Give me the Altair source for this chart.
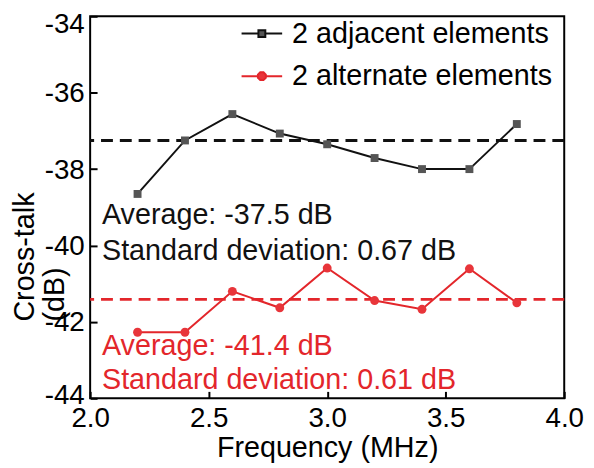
import altair as alt
import pandas as pd

# ---- data ----
freq = [2.2, 2.4, 2.6, 2.8, 3.0, 3.2, 3.4, 3.6, 3.8]
adjacent = [-38.65, -37.25, -36.56, -37.07, -37.35, -37.71, -38.00, -38.00, -36.82]
alternate = [-42.27, -42.27, -41.20, -41.63, -40.59, -41.44, -41.67, -40.61, -41.50]
series_names = ["2 adjacent elements", "2 alternate elements"]
series_keys = ["adjacent", "alternate"]
avg_levels = [-37.25, -41.41]

ann_text = ["Average: -37.5 dB", "Standard deviation: 0.67 dB",
            "Average: -41.4 dB", "Standard deviation: 0.61 dB"]
ann_key = [series_keys[0], series_keys[0], series_keys[1], series_keys[1]]
ann_x = [2.05, 2.05, 2.05, 2.05]
ann_y = [-39.44, -40.37, -42.86, -43.76]

x_ticks = [2.0, 2.5, 3.0, 3.5, 4.0]
y_ticks = [-44, -42, -40, -38, -36, -34]

# ---- tables ----
df = pd.DataFrame({
    "freq": freq + freq,
    "xtalk": adjacent + alternate,
    "key": [series_keys[0]] * len(freq) + [series_keys[1]] * len(freq),
})
avg_df = pd.DataFrame({"key": series_keys, "avg": avg_levels})
ann_df = pd.DataFrame({"text": ann_text, "key": ann_key, "x": ann_x, "y": ann_y})
# legend-only rows: no position, so no mark is drawn, only the legend entries
leg_df = pd.DataFrame({"series": series_names, "none": [None, None]})

FONT = "Liberation Sans"
line_colors = ["#111111", "#e3262b"]
marker_fills = ["#555555", "#e8353a"]

color_scale = alt.Scale(domain=series_keys, range=line_colors)
stroke_scale = alt.Scale(domain=series_names, range=line_colors)
fill_scale = alt.Scale(domain=series_names, range=marker_fills)

# legend glyphs: a short line with the marker in its middle
sq_path = "M-1,0H-0.17M0.17,0H1M-0.17,-0.17H0.17V0.17H-0.17Z"
ci_path = ("M-1,0H-0.2M0.2,0H1"
           "M0.194,0.080L0.080,0.194L-0.080,0.194L-0.194,0.080"
           "L-0.194,-0.080L-0.080,-0.194L0.080,-0.194L0.194,-0.080Z")
shape_scale = alt.Scale(domain=series_names, range=[sq_path, ci_path])

legend = alt.Legend(
    title=None,
    orient="none",
    legendX=152,
    legendY=-4,
    padding=0,
    rowPadding=6,
    symbolSize=1681,
    symbolStrokeWidth=2,
    symbolOpacity=1,
    labelFontSize=29,
    labelFont=FONT,
    labelColor="black",
    labelOffset=9,
    labelLimit=400,
)

x_enc = alt.X(
    "freq:Q",
    scale=alt.Scale(domain=[2.0, 4.0], nice=False, zero=False),
    axis=alt.Axis(
        values=x_ticks, format=".1f", title="Frequency (MHz)",
        titleFontSize=29, titleFontWeight="normal", titleFont=FONT, titleColor="black",
        titleBaseline="top", titleY=43,
        labelFontSize=28, labelFont=FONT, labelColor="black", labelPadding=6,
        labelFlush=False, labelOverlap=False,
        tickSize=7, tickWidth=2, tickColor="black", offset=-7,
        domain=False, grid=False,
    ),
)
y_scale = alt.Scale(domain=[-44, -34], nice=False, zero=False)
y_enc = alt.Y(
    "xtalk:Q",
    scale=y_scale,
    axis=alt.Axis(
        values=y_ticks, labelExpr="toString(datum.value)",
        title=["Cross-talk", "(dB)"],
        titleFontSize=29, titleFontWeight="normal", titleFont=FONT, titleColor="black",
        titleAngle=270, titleAlign="left", titleBaseline="top",
        titleX=-87, titleY=308, titleLineHeight=30,
        labelFontSize=28, labelFont=FONT, labelColor="black", labelPadding=6,
        labelFlush=False, labelOverlap=False,
        labelOffset={
            "condition": [
                {"test": "datum.value === -34", "value": 8},
                {"test": "datum.value === -44", "value": -3},
            ],
            "value": 1,
        },
        tickSize=7, tickWidth=2, tickColor="black", offset=-7,
        domain=False, grid=False,
    ),
)

lines = alt.Chart(df).mark_line(strokeWidth=2).encode(
    x=x_enc,
    y=y_enc,
    color=alt.Color("key:N", scale=color_scale, legend=None),
)

rules = alt.Chart(avg_df).mark_rule(strokeDash=[12, 7], strokeWidth=3).encode(
    y=alt.Y("avg:Q", scale=y_scale),
    color=alt.Color("key:N", scale=color_scale, legend=None),
)

pts_sq = alt.Chart(df).transform_filter(
    alt.datum.key == series_keys[0]
).mark_point(filled=True, opacity=1, size=64, shape="square", fill=marker_fills[0]).encode(
    x="freq:Q", y="xtalk:Q",
)
pts_ci = alt.Chart(df).transform_filter(
    alt.datum.key == series_keys[1]
).mark_point(filled=True, opacity=1, size=81, shape="circle", fill=marker_fills[1]).encode(
    x="freq:Q", y="xtalk:Q",
)

# legend-only layer
legend_layer = alt.Chart(leg_df).mark_point(filled=True, strokeWidth=2).encode(
    y=alt.Y("none:Q", scale=y_scale),
    shape=alt.Shape("series:N", scale=shape_scale, legend=legend),
    fill=alt.Fill("series:N", scale=fill_scale, legend=legend),
    stroke=alt.Stroke("series:N", scale=stroke_scale, legend=legend),
)

texts = alt.Chart(ann_df).mark_text(
    align="left", baseline="alphabetic", fontSize=29, font=FONT
).encode(
    x=alt.X("x:Q"),
    y=alt.Y("y:Q"),
    text="text:N",
    color=alt.Color("key:N", scale=color_scale, legend=None),
)

chart = alt.layer(lines, rules, pts_sq, pts_ci, texts, legend_layer).properties(
    width=479,
    height=386,
    autosize=alt.AutoSizeParams(type="none"),
    padding={"left": 83, "top": 6, "right": 22, "bottom": 66},
).configure(
    font=FONT
).configure_view(
    stroke="black", strokeWidth=2
)

chart.save("out.html", embed_options={"renderer": "svg", "actions": False})
